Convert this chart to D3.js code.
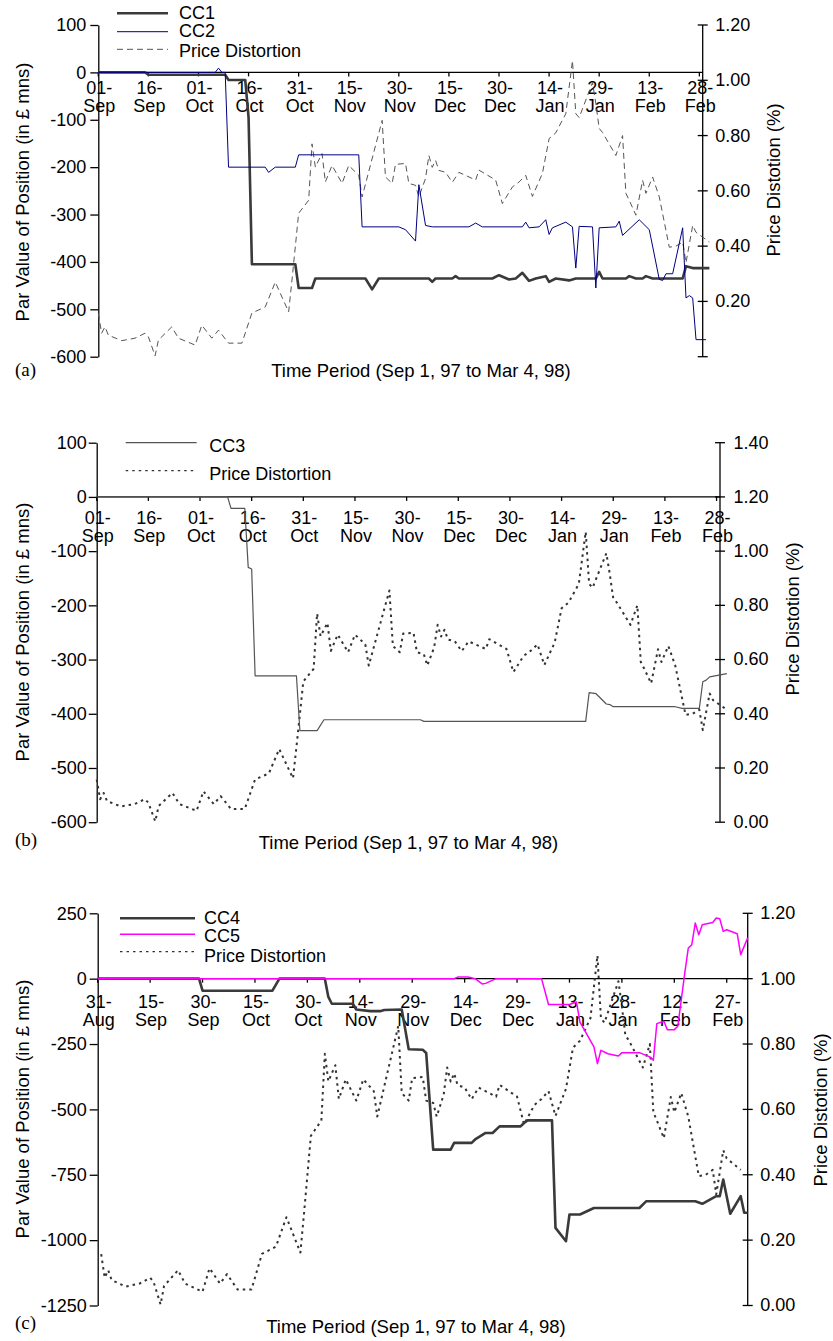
<!DOCTYPE html>
<html><head><meta charset="utf-8">
<script src="https://cdn.jsdelivr.net/npm/d3@7"></script>
<style>
body{margin:0;background:#fff}
svg{display:block}
</style>
</head><body>
<svg id="chart" width="833" height="1341"></svg>
<script>
// ---------------- DATA ----------------
const pdDates = ["1997-09-01","1997-09-02","1997-09-03","1997-09-04","1997-09-08","1997-09-12","1997-09-15","1997-09-16","1997-09-18","1997-09-19","1997-09-23","1997-09-25","1997-09-30","1997-10-02","1997-10-05","1997-10-07","1997-10-10","1997-10-14","1997-10-17","1997-10-21","1997-10-23","1997-10-24","1997-10-28","1997-10-29","1997-10-31","1997-11-03","1997-11-04","1997-11-05","1997-11-07","1997-11-08","1997-11-10","1997-11-13","1997-11-15","1997-11-18","1997-11-19","1997-11-25","1997-11-26","1997-11-28","1997-11-29","1997-12-02","1997-12-03","1997-12-05","1997-12-06","1997-12-08","1997-12-09","1997-12-10","1997-12-11","1997-12-12","1997-12-14","1997-12-16","1997-12-18","1997-12-23","1997-12-24","1997-12-29","1997-12-31","1998-01-03","1998-01-05","1998-01-07","1998-01-09","1998-01-12","1998-01-14","1998-01-16","1998-01-19","1998-01-21","1998-01-22","1998-01-23","1998-01-27","1998-01-28","1998-01-29","1998-01-30","1998-02-03","1998-02-05","1998-02-06","1998-02-07","1998-02-09","1998-02-11","1998-02-12","1998-02-14","1998-02-16","1998-02-19","1998-02-21","1998-02-23","1998-02-24","1998-02-26","1998-02-27","1998-03-03"];
const pdValues = [0.157,0.085,0.108,0.078,0.058,0.067,0.085,0.072,0.003,0.060,0.108,0.067,0.042,0.114,0.067,0.096,0.049,0.049,0.158,0.180,0.240,0.270,0.162,0.277,0.519,0.566,0.770,0.686,0.735,0.632,0.692,0.627,0.692,0.656,0.578,0.855,0.650,0.627,0.696,0.699,0.627,0.620,0.578,0.645,0.728,0.685,0.710,0.674,0.667,0.631,0.667,0.639,0.675,0.639,0.554,0.614,0.632,0.656,0.580,0.663,0.789,0.810,0.879,1.071,0.879,0.865,0.992,0.915,0.826,0.811,0.728,0.800,0.591,0.566,0.512,0.638,0.591,0.650,0.578,0.396,0.400,0.415,0.340,0.475,0.450,0.415];

const cc1Dates = ["1997-09-01","1997-09-15","1997-09-16","1997-10-09","1997-10-10","1997-10-15","1997-10-16","1997-10-17","1997-10-30","1997-10-31","1997-11-04","1997-11-05","1997-11-20","1997-11-22","1997-11-24","1997-12-09","1997-12-10","1997-12-11","1997-12-16","1997-12-17","1997-12-18","1997-12-28","1997-12-30","1998-01-02","1998-01-04","1998-01-06","1998-01-08","1998-01-10","1998-01-13","1998-01-14","1998-01-16","1998-01-20","1998-01-22","1998-01-28","1998-01-29","1998-01-30","1998-02-06","1998-02-07","1998-02-09","1998-02-11","1998-02-12","1998-02-14","1998-02-23","1998-02-24","1998-02-26","1998-03-03"];
const cc1Values = [0,0,-5,-5,-16,-16,-95,-405,-405,-455,-455,-435,-435,-458,-435,-435,-442,-435,-435,-430,-435,-435,-428,-437,-435,-423,-440,-435,-430,-442,-435,-439,-435,-435,-421,-435,-435,-430,-435,-435,-430,-435,-435,-409,-413,-413];

const cc2Dates = ["1997-09-01","1997-10-06","1997-10-07","1997-10-08","1997-10-09","1997-10-10","1997-10-21","1997-10-22","1997-10-24","1997-10-30","1997-10-31","1997-11-18","1997-11-19","1997-11-30","1997-12-02","1997-12-05","1997-12-06","1997-12-08","1997-12-10","1997-12-21","1997-12-23","1997-12-25","1998-01-06","1998-01-07","1998-01-08","1998-01-11","1998-01-13","1998-01-14","1998-01-15","1998-01-19","1998-01-21","1998-01-22","1998-01-23","1998-01-27","1998-01-28","1998-01-29","1998-02-03","1998-02-04","1998-02-05","1998-02-10","1998-02-13","1998-02-16","1998-02-17","1998-02-18","1998-02-20","1998-02-23","1998-02-24","1998-02-25","1998-02-26","1998-02-27","1998-03-02"];
const cc2Values = [0,0,9,0,0,-200,-200,-211,-200,-200,-174,-174,-326,-326,-332,-356,-237,-323,-326,-326,-318,-326,-326,-316,-328,-326,-311,-342,-328,-316,-326,-413,-325,-326,-455,-328,-326,-314,-344,-311,-332,-437,-439,-425,-425,-328,-476,-471,-476,-564,-564];

const cc3Dates = ["1997-09-01","1997-10-09","1997-10-10","1997-10-14","1997-10-15","1997-10-16","1997-10-17","1997-10-29","1997-10-30","1997-11-04","1997-11-06","1997-12-04","1997-12-05","1998-01-21","1998-01-22","1998-01-24","1998-01-27","1998-01-28","1998-01-29","1998-02-16","1998-02-18","1998-02-23","1998-02-24","1998-02-25","1998-02-26","1998-03-03"];
const cc3Values = [0,0,-21,-21,-130,-133,-330,-330,-431,-431,-411,-411,-414,-414,-361,-363,-382,-383,-387,-387,-390,-390,-341,-338,-332,-326];

const cc4Dates = ["1997-08-31","1997-09-29","1997-09-30","1997-10-20","1997-10-22","1997-11-04","1997-11-05","1997-11-06","1997-11-12","1997-11-13","1997-11-17","1997-11-20","1997-11-21","1997-11-26","1997-11-28","1997-12-02","1997-12-03","1997-12-05","1997-12-10","1997-12-11","1997-12-16","1997-12-17","1997-12-20","1997-12-22","1997-12-24","1997-12-30","1997-12-31","1998-01-01","1998-01-08","1998-01-09","1998-01-12","1998-01-13","1998-01-16","1998-01-20","1998-02-02","1998-02-04","1998-02-18","1998-02-20","1998-02-24","1998-02-25","1998-02-26","1998-02-28","1998-03-03","1998-03-04","1998-03-05"];
const cc4Values = [0,0,-46,-46,0,0,-70,-96,-96,-118,-124,-124,-120,-118,-270,-272,-284,-654,-654,-628,-628,-615,-590,-590,-565,-565,-552,-542,-542,-953,-1004,-902,-902,-877,-877,-851,-851,-861,-832,-832,-768,-899,-832,-895,-895];

const cc5Dates = ["1997-08-31","1997-12-11","1997-12-12","1997-12-15","1997-12-17","1997-12-19","1997-12-20","1997-12-23","1998-01-05","1998-01-07","1998-01-13","1998-01-15","1998-01-16","1998-01-20","1998-01-21","1998-01-22","1998-01-24","1998-01-27","1998-01-28","1998-02-02","1998-02-05","1998-02-06","1998-02-07","1998-02-09","1998-02-10","1998-02-12","1998-02-13","1998-02-14","1998-02-15","1998-02-16","1998-02-17","1998-02-18","1998-02-19","1998-02-20","1998-02-23","1998-02-24","1998-02-25","1998-02-26","1998-02-27","1998-03-02","1998-03-03","1998-03-05"];
const cc5Values = [0,0,6,6,0,-20,-18,0,0,-99,-99,-89,-166,-261,-325,-274,-287,-296,-283,-283,-299,-312,-172,-163,-195,-195,-182,-80,22,117,130,213,168,206,215,232,229,181,187,172,92,156];

const tickDatesAB = ["1997-09-01","1997-09-16","1997-10-01","1997-10-16","1997-10-31","1997-11-15","1997-11-30","1997-12-15","1997-12-30","1998-01-14","1998-01-29","1998-02-13","1998-02-28"];
const tickDatesC = ["1997-08-31","1997-09-15","1997-09-30","1997-10-15","1997-10-30","1997-11-14","1997-11-29","1997-12-14","1997-12-29","1998-01-13","1998-01-28","1998-02-12","1998-02-27"];
const leftTicksAB = [100,0,-100,-200,-300,-400,-500,-600];
const leftTicksC = [250,0,-250,-500,-750,-1000,-1250];
const rightTicksA = [0,0.2,0.4,0.6,0.8,1.0,1.2];
const rightTicksB = [0,0.2,0.4,0.6,0.8,1.0,1.2,1.4];
const rightTicksC = [0,0.2,0.4,0.6,0.8,1.0,1.2];

const yTitle = "Par Value of Position (in £ mns)";
const rTitle = "Price Distotion (%)";
const xTitle = "Time Period (Sep 1, 97 to Mar 4, 98)";

// ---------------- DRAW ----------------
const FONT = "'Liberation Sans', Arial, Helvetica, sans-serif";
const SERIF = "'Liberation Serif', 'Times New Roman', serif";
const parse = d3.utcParse("%Y-%m-%d");
const fmtDay = d3.utcFormat("%d-");
const fmtMon = d3.utcFormat("%b");
const svg = d3.select("#chart");

function zip(dates, values){ return dates.map((d,i)=>({date:parse(d), v:values[i]})); }

function panel(cfg){
  const g = svg.append("g");
  const x = d3.scaleUtc().domain(cfg.xDomain.map(parse)).range([cfg.x0, cfg.x1]);
  const y = d3.scaleLinear().domain(cfg.yDomain).range([cfg.yBot, cfg.yTop]);
  const r = d3.scaleLinear().domain(cfg.rDomain).range([cfg.yBot, cfg.yTop]);

  // left axis
  const la = g.append("g").attr("transform",`translate(${cfg.x0},0)`)
    .call(d3.axisLeft(y).tickValues(cfg.leftTicks).tickSizeInner(8).tickSizeOuter(0)
      .tickPadding(cfg.lPad).tickFormat(d=>String(d)));
  la.attr("font-size",18).attr("font-family",FONT);
  la.selectAll("path,line").attr("stroke","#000").attr("stroke-width",1.3);
  la.selectAll("text").attr("fill","#000");

  // right axis
  const ra = g.append("g");
  ra.append("line").attr("x1",cfg.x1).attr("x2",cfg.x1)
    .attr("y1",r(cfg.rDomain[0])).attr("y2",r(cfg.rDomain[1]))
    .attr("stroke","#000").attr("stroke-width",1.3);
  ra.selectAll("line.t").data(cfg.rightTicks).join("line").attr("class","t")
    .attr("x1",cfg.x1-5).attr("x2",cfg.x1+5).attr("y1",d=>r(d)).attr("y2",d=>r(d))
    .attr("stroke","#000").attr("stroke-width",1.3);
  ra.selectAll("text").data(cfg.rightTicks.filter(d=>cfg.showZero || d>0)).join("text")
    .attr("x",cfg.x1+cfg.rPad).attr("y",d=>r(d)).attr("dy","0.33em")
    .attr("font-size",18).attr("font-family",FONT).text(d=>d.toFixed(2));

  // x axis at zero
  const y0 = y(0);
  const xa = g.append("g");
  xa.append("line").attr("x1",cfg.x0).attr("x2",cfg.x1).attr("y1",y0).attr("y2",y0)
    .attr("stroke","#000").attr("stroke-width",1.3);
  const tks = cfg.xTicks.map(parse);
  xa.selectAll("line.t").data(tks).join("line").attr("class","t")
    .attr("x1",d=>x(d)).attr("x2",d=>x(d)).attr("y1",y0).attr("y2",y0+4)
    .attr("stroke","#000").attr("stroke-width",1.3);
  xa.selectAll("text.d").data(tks).join("text").attr("class","d")
    .attr("x",d=>x(d)+1).attr("y",y0+cfg.row1).attr("text-anchor","middle")
    .attr("font-size",18).attr("font-family",FONT).text(fmtDay);
  xa.selectAll("text.m").data(tks).join("text").attr("class","m")
    .attr("x",d=>x(d)+1).attr("y",y0+cfg.row2).attr("text-anchor","middle")
    .attr("font-size",18).attr("font-family",FONT).text(fmtMon);

  // series
  cfg.series.forEach(s=>{
    const sc = s.right ? r : y;
    g.append("path").datum(zip(s.dates, s.values))
      .attr("d", d3.line().x(d=>x(d.date)).y(d=>sc(d.v)))
      .attr("fill","none").attr("stroke",s.color).attr("stroke-width",s.width)
      .attr("stroke-dasharray",s.dash||null).attr("stroke-linejoin","round");
  });

  // legend
  cfg.series.slice().sort((a,b)=>a.lorder-b.lorder).forEach(s=>{
    g.append("line").attr("x1",cfg.leg.x0).attr("x2",cfg.leg.x1)
      .attr("y1",s.ly).attr("y2",s.ly).attr("stroke",s.color)
      .attr("stroke-width",s.lwidth||s.width).attr("stroke-dasharray",s.dash||null);
    g.append("text").attr("x",cfg.leg.tx).attr("y",s.ty).attr("font-size",18)
      .attr("font-family",FONT).text(s.name);
  });

  // titles
  g.append("text").attr("transform",`translate(${cfg.yT[0]},${cfg.yT[1]}) rotate(-90)`)
    .attr("text-anchor","middle").attr("dy","0.35em").attr("font-size",18.5)
    .attr("font-family",FONT).text(yTitle);
  g.append("text").attr("transform",`translate(${cfg.rT[0]},${cfg.rT[1]}) rotate(-90)`)
    .attr("text-anchor","middle").attr("dy","0.35em").attr("font-size",18.5)
    .attr("font-family",FONT).text(rTitle);
  g.append("text").attr("x",cfg.xT[0]).attr("y",cfg.xT[1]).attr("text-anchor","middle")
    .attr("font-size",18.5).attr("font-family",FONT).text(xTitle);
  g.append("text").attr("x",15).attr("y",cfg.labY).attr("font-size",19)
    .attr("font-family",SERIF).text(cfg.label);
}

const pdDashed = {name:"Price Distortion", dates:pdDates, values:pdValues, right:true, color:"#555", width:1, dash:"6,4"};
const pdDotted = {name:"Price Distortion", dates:pdDates, values:pdValues, right:true, color:"#333", width:2, lwidth:1.2, dash:"2.5,4"};

panel({
  label:"(a)", labY:376,
  x0:98.3, x1:702.7, yTop:25, yBot:356.7,
  xDomain:["1997-09-01","1998-03-01"], yDomain:[-600,100], rDomain:[0,1.2],
  leftTicks:leftTicksAB, rightTicks:rightTicksA, showZero:false, lPad:4, rPad:12.5,
  xTicks:tickDatesAB, row1:22, row2:40,
  yT:[22.5,192], rT:[773.5,180], xT:[421,377],
  leg:{x0:117, x1:168, tx:179},
  series:[
    Object.assign({}, pdDashed, {lorder:2, ly:49.3, ty:57.3}),
    {name:"CC1", dates:cc1Dates, values:cc1Values, color:"#3a3a3a", width:2.6, lorder:0, ly:13.3, ty:18.5},
    {name:"CC2", dates:cc2Dates, values:cc2Values, color:"#000080", width:1, lorder:1, ly:31.7, ty:37.3}
  ]
});

panel({
  label:"(b)", labY:846,
  x0:96.7, x1:720, yTop:442.7, yBot:822.2,
  xDomain:["1997-09-01","1998-03-01"], yDomain:[-600,100], rDomain:[0,1.4],
  leftTicks:leftTicksAB, rightTicks:rightTicksB, showZero:true, lPad:2, rPad:13.5,
  xTicks:tickDatesAB, row1:27.3, row2:44.7,
  yT:[22.5,632], rT:[792.5,619], xT:[408.5,849],
  leg:{x0:125.7, x1:196.7, tx:209.3},
  series:[
    Object.assign({}, pdDotted, {lorder:1, ly:470.7, ty:480}),
    {name:"CC3", dates:cc3Dates, values:cc3Values, color:"#555", width:1.2, lorder:0, ly:442.7, ty:451.5}
  ]
});

panel({
  label:"(c)", labY:1329,
  x0:97.7, x1:747.7, yTop:913.3, yBot:1305.5,
  xDomain:["1997-08-31","1998-03-05"], yDomain:[-1250,250], rDomain:[0,1.2],
  leftTicks:leftTicksC, rightTicks:rightTicksC, showZero:true, lPad:3, rPad:12.5,
  xTicks:tickDatesC, row1:29.3, row2:47.7,
  yT:[22.5,1109], rT:[821,1110], xT:[416,1333],
  leg:{x0:120, x1:195, tx:204},
  series:[
    Object.assign({}, pdDotted, {lorder:2, ly:951.7, ty:961.5}),
    {name:"CC4", dates:cc4Dates, values:cc4Values, color:"#3a3a3a", width:2.6, lorder:0, ly:918.3, ty:923.5},
    {name:"CC5", dates:cc5Dates, values:cc5Values, color:"#ff00ff", width:1.5, lorder:1, ly:934.3, ty:941.5}
  ]
});
</script>
</body></html>
